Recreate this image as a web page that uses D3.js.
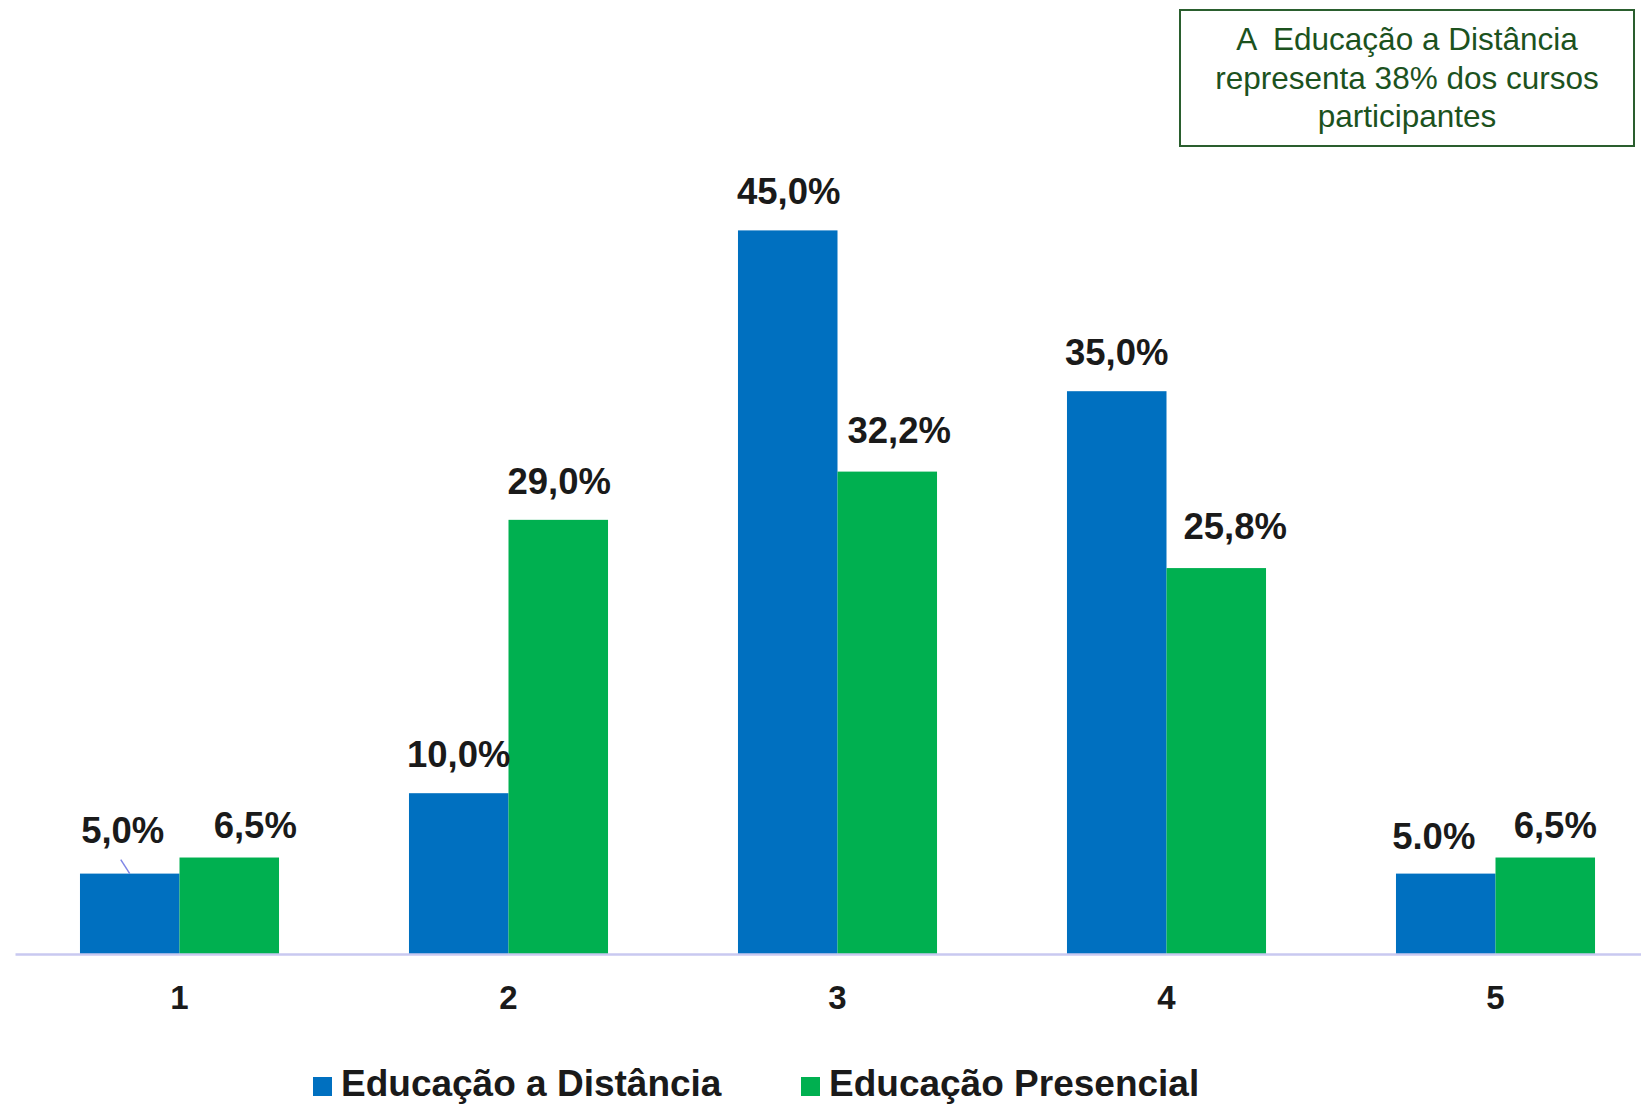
<!DOCTYPE html>
<html>
<head>
<meta charset="utf-8">
<script src="https://cdn.jsdelivr.net/npm/d3@7"></script>
<style>
  body { margin: 0; background: #fff; }
  svg { display: block; font-family: "Liberation Sans", Arial, sans-serif; }
</style>
</head>
<body>
<div id="chart-area"></div>
<script>
const WIDTH = 1641;
const HEIGHT = 1105;

// data
const categories = ["1", "2", "3", "4", "5"];
const seriesNames = ["Educação a Distância", "Educação Presencial"];
const distancia = [5.0, 10.0, 45.0, 35.0, 5.0];
const presencial = [6.0, 27.0, 30.0, 24.0, 6.0]; // bar heights as drawn
const distanciaLabels = ["5,0%", "10,0%", "45,0%", "35,0%", "5.0%"];
const presencialLabels = ["6,5%", "29,0%", "32,2%", "25,8%", "6,5%"];
const noteLines = ["A  Educação a Distância", "representa 38% dos cursos", "participantes"];

const COLORS = ["#0070C0", "#00B050"];

// label nudges [dx, gap above bar]
const nudge = [
  [[-7, 31], [26, 20]],
  [[0, 26], [1, 26]],
  [[1, 26], [12, 29]],
  [[0, 26], [19, 29]],
  [[-12, 25], [10, 20]],
];

const svg = d3
  .select("#chart-area")
  .append("svg")
  .attr("width", WIDTH)
  .attr("height", HEIGHT);

// scales
const x = d3
  .scaleBand()
  .domain(categories)
  .range([15, 1660])
  .paddingInner(0.395)
  .paddingOuter(0.1975);

const xSub = d3
  .scaleBand()
  .domain([0, 1])
  .range([0, x.bandwidth()]);

const y = d3.scaleLinear().domain([0, 50]).range([954, 150]);

const rows = categories.map((c, i) => ({
  cat: c,
  i: i,
  vals: [distancia[i], presencial[i]],
  labels: [distanciaLabels[i], presencialLabels[i]],
}));

// bars
const groups = svg
  .selectAll("g.group")
  .data(rows)
  .enter()
  .append("g")
  .attr("class", "group")
  .attr("transform", (d) => `translate(${x(d.cat)}, 0)`);

groups
  .selectAll("rect")
  .data((d) => d.vals.map((v, k) => ({ v, k })))
  .enter()
  .append("rect")
  .attr("x", (d) => xSub(d.k))
  .attr("y", (d) => y(d.v))
  .attr("width", xSub.bandwidth())
  .attr("height", (d) => y(0) - y(d.v))
  .attr("fill", (d) => COLORS[d.k]);

// value labels
groups
  .selectAll("text.value")
  .data((d) => d.vals.map((v, k) => ({ v, k, label: d.labels[k], n: nudge[d.i][k] })))
  .enter()
  .append("text")
  .attr("class", "value")
  .attr("x", (d) => xSub(d.k) + xSub.bandwidth() / 2 + d.n[0])
  .attr("y", (d) => y(d.v) - d.n[1])
  .attr("text-anchor", "middle")
  .attr("font-size", "36.5px")
  .attr("font-weight", "bold")
  .attr("fill", "#1a1a1a")
  .text((d) => d.label);

// little leader line on the first label
svg
  .append("line")
  .attr("x1", x(categories[0]) + xSub.bandwidth() / 2 - 9)
  .attr("y1", y(distancia[0]) - 14)
  .attr("x2", x(categories[0]) + xSub.bandwidth() / 2)
  .attr("y2", y(distancia[0]))
  .attr("stroke", "#7f86e6")
  .attr("stroke-width", 1.5);

// x axis
const xAxis = svg
  .append("g")
  .attr("class", "x axis")
  .attr("transform", `translate(0, ${y(0)})`)
  .call(d3.axisBottom(x).tickSize(0).tickPadding(32));

xAxis.select(".domain").attr("stroke", "#c9c9f0").attr("stroke-width", 2.5);
xAxis
  .selectAll(".tick text")
  .attr("font-size", "33px")
  .attr("font-weight", "bold")
  .attr("font-family", "Liberation Sans, Arial, sans-serif")
  .attr("fill", "#1a1a1a");

// legend
const legendX = [313, 801];
seriesNames.forEach((name, k) => {
  svg
    .append("rect")
    .attr("x", legendX[k])
    .attr("y", 1077)
    .attr("width", 19)
    .attr("height", 19)
    .attr("fill", COLORS[k]);
  svg
    .append("text")
    .attr("x", legendX[k] + 28)
    .attr("y", 1096)
    .attr("font-size", "37px")
    .attr("font-weight", "bold")
    .attr("fill", "#1a1a1a")
    .text(name);
});

// note box
svg
  .append("rect")
  .attr("x", 1180)
  .attr("y", 10)
  .attr("width", 454)
  .attr("height", 136)
  .attr("fill", "#fff")
  .attr("stroke", "#2a5e2e")
  .attr("stroke-width", 2);

svg
  .selectAll("text.note")
  .data(noteLines)
  .enter()
  .append("text")
  .attr("class", "note")
  .attr("x", 1407)
  .attr("y", (d, i) => 50 + i * 38.5)
  .attr("text-anchor", "middle")
  .attr("font-size", "31.5px")
  .attr("fill", "#1c521e")
  .style("white-space", "pre")
  .text((d) => d);
</script>
</body>
</html>
